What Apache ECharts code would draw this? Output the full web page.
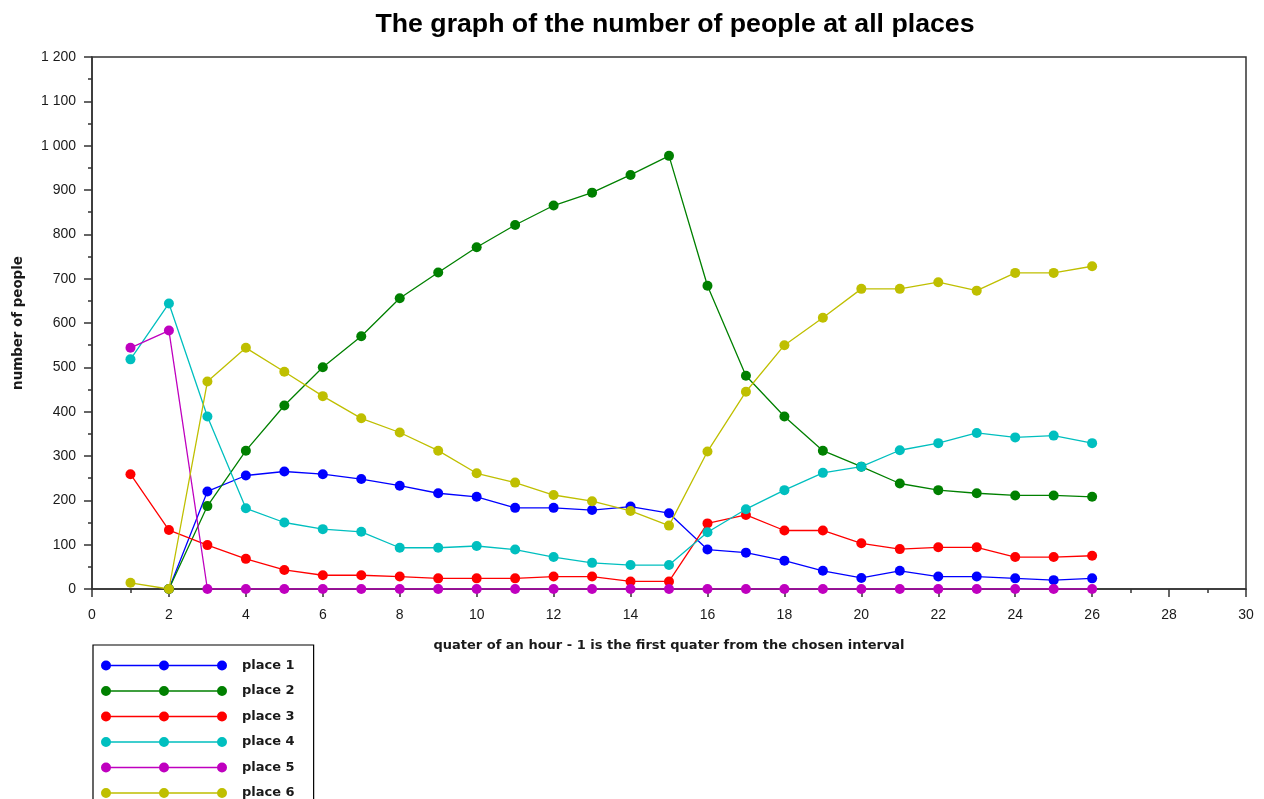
<!DOCTYPE html>
<html>
<head>
<meta charset="utf-8">
<title>The graph of the number of people at all places</title>
<script src="https://cdn.jsdelivr.net/npm/echarts@6/dist/echarts.min.js"></script>
<style>
  html, body { margin: 0; padding: 0; background: #fff; }
  #chart { width: 1264px; height: 799px; }
</style>
</head>
<body>
<div id="chart"></div>
<script>
// quarter index on the x axis
const quarters = [1, 2, 3, 4, 5, 6, 7, 8, 9, 10, 11, 12, 13, 14, 15, 16, 17, 18, 19, 20, 21, 22, 23, 24, 25, 26];

const place1 = [null, 0, 220, 256, 265, 259, 248, 233, 216, 208, 183, 183, 178, 186, 171, 89, 82, 64, 41, 25, 41, 28, 28, 24, 20, 24];
const place2 = [null, 0, 187, 312, 414, 500, 570, 656, 714, 771, 821, 865, 894, 934, 977, 684, 481, 389, 312, 276, 238, 223, 216, 211, 211, 208];
const place3 = [259, 133, 99, 68, 43, 31, 31, 28, 24, 24, 24, 28, 28, 17, 17, 148, 167, 132, 132, 103, 90, 94, 94, 72, 72, 75];
const place4 = [518, 644, 389, 182, 150, 135, 129, 93, 93, 97, 89, 72, 59, 54, 54, 128, 180, 223, 262, 276, 313, 329, 352, 342, 346, 329];
const place5 = [544, 583, 0, 0, 0, 0, 0, 0, 0, 0, 0, 0, 0, 0, 0, 0, 0, 0, 0, 0, 0, 0, 0, 0, 0, 0];
const place6 = [14, 0, 468, 544, 490, 435, 385, 353, 312, 261, 240, 212, 198, 176, 143, 310, 445, 550, 612, 677, 677, 692, 673, 713, 713, 728];

const names = ['place 1', 'place 2', 'place 3', 'place 4', 'place 5', 'place 6'];
const colors = ['#0000ff', '#008000', '#ff0000', '#00bfbf', '#bf00bf', '#bfbf00'];
const values = [place1, place2, place3, place4, place5, place6];

const yTicks = [0, 100, 200, 300, 400, 500, 600, 700, 800, 900, 1000, 1100, 1200];

// legend icon: line with three dots (all subpaths clockwise so nothing is cut out)
const legendIcon = 'path://M5,4.3H121V5.7H5Z' +
  'M0,5A5,5,0,1,1,10,5A5,5,0,1,1,0,5Z' +
  'M58,5A5,5,0,1,1,68,5A5,5,0,1,1,58,5Z' +
  'M116,5A5,5,0,1,1,126,5A5,5,0,1,1,116,5Z';

const chart = echarts.init(document.getElementById('chart'));

const axisColor = '#333333';
const textColor = '#1a1a1a';

chart.setOption({
  animation: false,
  backgroundColor: '#ffffff',
  title: {
    text: 'The graph of the number of people at all places',
    left: 670,
    textAlign: 'center',
    top: 6,
    textStyle: {
      fontFamily: 'Liberation Sans',
      fontSize: 26.7,
      fontWeight: 'bold',
      color: '#000000',
    },
  },
  grid: {
    left: 92,
    right: 18,
    top: 57,
    bottom: 210,
    outerBoundsMode: 'none',
    show: true,
    borderColor: axisColor,
    borderWidth: 1.5,
  },
  legend: {
    orient: 'vertical',
    left: 93,
    top: 645,
    height: 300,
    padding: [14, 19, 14, 8],
    borderColor: '#000000',
    borderWidth: 1.2,
    icon: legendIcon,
    itemWidth: 126,
    itemHeight: 10,
    itemGap: 12.5,
    textStyle: {
      fontFamily: 'DejaVu Sans',
      fontSize: 13,
      fontWeight: 'bold',
      lineHeight: 13,
      padding: [0, 0, 0, 10],
      color: textColor,
    },
    data: names,
  },
  xAxis: {
    type: 'value',
    min: 0,
    max: 30,
    interval: 2,
    name: 'quater of an hour - 1 is the first quater from the chosen interval',
    nameLocation: 'middle',
    nameGap: 50,
    nameTextStyle: {
      fontFamily: 'DejaVu Sans',
      fontSize: 13,
      fontWeight: 'bold',
      color: textColor,
    },
    axisLine: { lineStyle: { color: axisColor, width: 1.5 } },
    axisTick: { show: true, length: 8, lineStyle: { color: axisColor, width: 1.5 } },
    minorTick: { show: true, splitNumber: 2, length: 4, lineStyle: { color: axisColor, width: 1.5 } },
    axisLabel: {
      margin: 19,
      fontFamily: 'Liberation Sans',
      fontSize: 14,
      color: textColor,
    },
    splitLine: { show: false },
  },
  yAxis: {
    type: 'value',
    min: yTicks[0],
    max: yTicks[yTicks.length - 1],
    interval: 100,
    name: 'number of people',
    nameLocation: 'middle',
    nameGap: 67,
    nameTextStyle: {
      fontFamily: 'DejaVu Sans',
      fontSize: 13.4,
      fontWeight: 'bold',
      color: textColor,
    },
    axisLine: { lineStyle: { color: axisColor, width: 1.5 } },
    axisTick: { show: true, length: 8, lineStyle: { color: axisColor, width: 1.5 } },
    minorTick: { show: true, splitNumber: 2, length: 4, lineStyle: { color: axisColor, width: 1.5 } },
    axisLabel: {
      margin: 16,
      fontFamily: 'Liberation Sans',
      fontSize: 14,
      color: textColor,
      formatter: v => String(v).replace(/\B(?=(\d{3})+(?!\d))/g, ' '),
    },
    splitLine: { show: false },
  },
  series: names.map((name, i) => ({
    name: name,
    type: 'line',
    symbol: 'circle',
    symbolSize: 10,
    showAllSymbol: true,
    color: colors[i],
    lineStyle: { color: colors[i], width: 1.3 },
    itemStyle: { color: colors[i] },
    data: quarters.map((q, k) => [q, values[i][k]]),
  })),
});
</script>
</body>
</html>
